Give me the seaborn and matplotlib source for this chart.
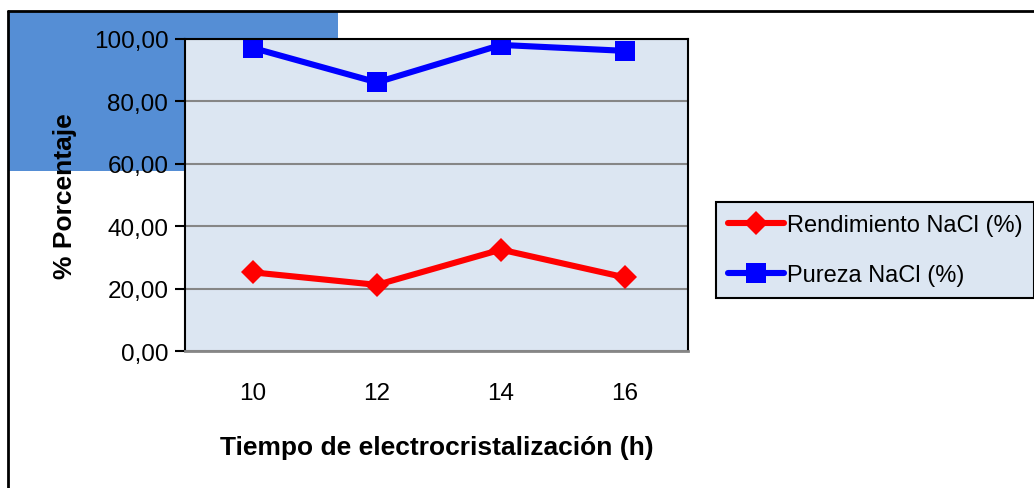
import matplotlib
matplotlib.use("Agg")
import matplotlib.pyplot as plt
import matplotlib.ticker as mticker
from matplotlib.patches import Rectangle
from matplotlib.lines import Line2D
import pandas as pd
import seaborn as sns

# data
tiempo = ["10", "12", "14", "16"]
rendimiento = [25.2, 21.2, 32.5, 23.6]
pureza = [97.1, 86.1, 98.1, 96.2]

sns.set_theme(style="white")
plt.rcParams["font.family"] = ["Liberation Sans", "DejaVu Sans"]
plt.rcParams["text.color"] = "black"
plt.rcParams["xtick.color"] = "black"
plt.rcParams["ytick.color"] = "black"
plt.rcParams["axes.labelcolor"] = "black"

df = pd.DataFrame({"Tiempo": tiempo, "Rendimiento": rendimiento, "Pureza": pureza})

fig = plt.figure(figsize=(10.34, 4.89), dpi=100)
fig.patch.set_facecolor("white")

# blue block behind top-left corner and outer frame
fig.patches.append(Rectangle((8 / 1034, 1 - 172 / 489), 330 / 1034, 160 / 489,
                             transform=fig.transFigure, facecolor="#558ed5",
                             edgecolor="none", zorder=-5))
fig.lines.append(Line2D([8 / 1034, 1], [1 - 12 / 489, 1 - 12 / 489], transform=fig.transFigure,
                        color="black", lw=2, zorder=-4))
fig.lines.append(Line2D([8 / 1034, 8 / 1034], [0, 1 - 12 / 489], transform=fig.transFigure,
                        color="black", lw=2, zorder=-4))

ax = fig.add_axes([185 / 1034, 1 - 352 / 489, 503 / 1034, 312 / 489])
ax.set_facecolor("#dce6f2")

sns.lineplot(data=df, x="Tiempo", y="Rendimiento", ax=ax, color="#ff0000", lw=4.4,
             marker="D", markersize=12, markeredgewidth=0, label="Rendimiento NaCl (%)")
sns.lineplot(data=df, x="Tiempo", y="Pureza", ax=ax, color="#0000ff", lw=4.4,
             marker="s", markersize=14.5, markeredgewidth=0, label="Pureza NaCl (%)")

ax.set_ylim(0, 100)
ax.set_xlim(-0.55, 3.51)
ax.set_yticks([0, 20, 40, 60, 80, 100])
ax.yaxis.set_major_formatter(mticker.FuncFormatter(lambda v, p: f"{v:.2f}".replace(".", ",")))
ax.yaxis.grid(True, color="#868686", lw=1.5)
ax.set_axisbelow(True)

ax.tick_params(axis="y", direction="out", length=7, width=1.5, color="black",
               labelsize=17.5, pad=5, left=True)
ax.tick_params(axis="x", length=0, labelsize=17.5, pad=22)

for side in ["left", "top", "right"]:
    ax.spines[side].set_color("black")
    ax.spines[side].set_linewidth(1.5)
ax.spines["bottom"].set_color("#868686")
ax.spines["bottom"].set_linewidth(2)

ax.set_xlabel("Tiempo de electrocristalización (h)", fontsize=19, fontweight="bold", labelpad=23)
ax.set_ylabel("% Porcentaje", fontsize=19, fontweight="bold", labelpad=12)

leg = ax.legend(loc="center left", bbox_to_anchor=(716 / 1034, 1 - 251 / 489),
                bbox_transform=fig.transFigure, fontsize=17, frameon=True,
                facecolor="#dce6f2", edgecolor="black", fancybox=False,
                handlelength=2.4, handletextpad=0.1, labelspacing=1.2,
                borderpad=0.5, borderaxespad=0)
leg.get_frame().set_linewidth(1.5)
leg.get_frame().set_alpha(1)

fig.savefig("out.png", dpi=100)
